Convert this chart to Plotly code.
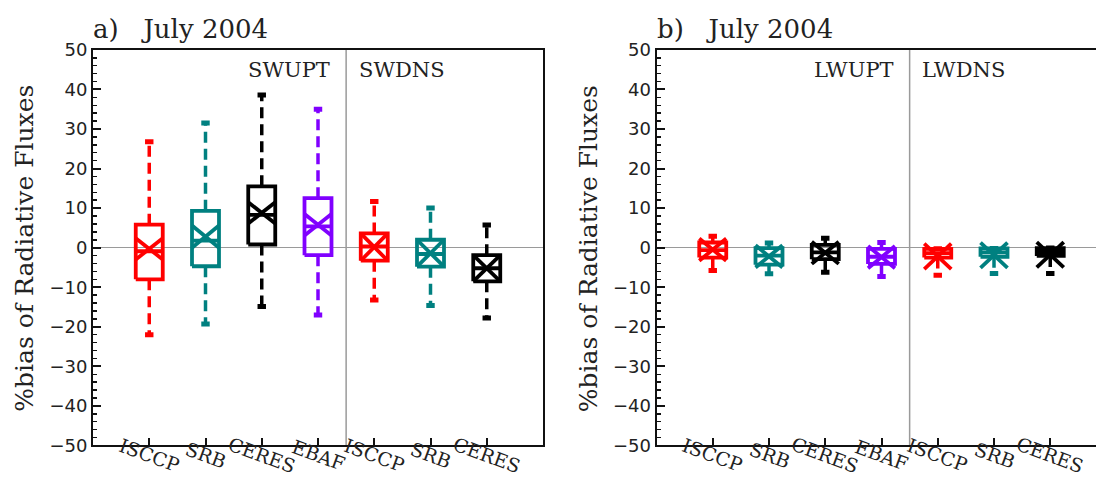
import plotly.graph_objects as go

# ---------------- data ----------------
categories = ["ISCCP", "SRB", "CERES", "EBAF", "ISCCP", "SRB", "CERES"]
colors = ["#ff0000", "#008080", "#000000", "#8000ff", "#ff0000", "#008080", "#000000"]
n_upward = 4  # first 4 boxes: TOA upward, last 3: surface downward

# panel a (shortwave)
a_groups = ["SWUPT", "SWDNS"]
a_whisker_hi = [26.8, 31.5, 38.6, 35.0, 11.7, 10.0, 5.7]
a_q3 = [5.8, 9.3, 15.5, 12.5, 3.6, 2.0, -1.9]
a_median = [-0.9, 1.8, 8.3, 5.4, 0.3, -1.6, -5.2]
a_q1 = [-8.0, -4.7, 0.8, -1.9, -3.3, -4.8, -8.5]
a_whisker_lo = [-22.0, -19.3, -14.9, -17.0, -13.2, -14.6, -17.8]
a_mean = [-0.3, 2.8, 8.8, 5.8, 0.15, -1.4, -5.2]
a_xhalf = [2.7, 2.8, 2.7, 2.7, 3.45, 3.4, 3.3]

# panel b (longwave)
b_groups = ["LWUPT", "LWDNS"]
b_whisker_hi = [2.9, 1.2, 2.4, 1.3, -0.3, -0.2, -0.1]
b_q3 = [1.3, -0.1, 0.7, -0.3, -0.3, -0.2, -0.1]
b_median = [-0.6, -2.0, -1.2, -2.3, -1.4, -1.2, -1.1]
b_q1 = [-2.5, -4.3, -2.9, -4.1, -2.5, -2.3, -2.1]
b_whisker_lo = [-5.8, -6.6, -6.2, -7.3, -7.0, -6.5, -6.5]
b_mean = [-0.5, -2.2, -1.3, -2.4, -2.2, -1.9, -1.8]
b_xhalf = [2.8, 2.8, 2.8, 2.8, 3.2, 3.2, 3.2]

title_month = "July 2004"
y_label = "%bias of Radiative Fluxes"
y_range = [-50, 50]

# ---------------- style ----------------
W, H = 1096, 478
SERIF = "DejaVu Serif"
SANS = "DejaVu Sans"
BOX_HALF = 0.24
CAP_HALF = 0.075
GRAY = "#9a9a9a"

# the captured picture maps page y to image y as: img = 10.1 + 0.957 * page
def page_y(img_y):
    return (img_y - 10.1) / 0.957


def paper_y(img_y):
    return 1 - page_y(img_y) / H


fig = go.Figure()

positions = list(range(1, len(categories) + 1))
sep = n_upward + 0.5


def add_panel(xa, ya, whi, q3, med, q1, wlo, mean, xhalf):
    for i, p in enumerate(positions):
        c = colors[i]
        # dashed whiskers
        fig.add_trace(go.Scatter(
            x=[p, p, None, p, p], y=[q3[i], whi[i], None, q1[i], wlo[i]],
            mode="lines", line=dict(color=c, width=3.5, dash="11px,6px"),
            xaxis=xa, yaxis=ya, showlegend=False, hoverinfo="skip"))
        # caps
        fig.add_trace(go.Scatter(
            x=[p - CAP_HALF, p + CAP_HALF, None, p - CAP_HALF, p + CAP_HALF],
            y=[whi[i], whi[i], None, wlo[i], wlo[i]],
            mode="lines", line=dict(color=c, width=5),
            xaxis=xa, yaxis=ya, showlegend=False, hoverinfo="skip"))
        # box, median, X (mean +/- half)
        l, r = p - BOX_HALF, p + BOX_HALF
        fig.add_trace(go.Scatter(
            x=[l, r, r, l, l, None, l, r, None,
               l, r, None, l, r],
            y=[q1[i], q1[i], q3[i], q3[i], q1[i], None, med[i], med[i], None,
               mean[i] + xhalf[i], mean[i] - xhalf[i], None,
               mean[i] - xhalf[i], mean[i] + xhalf[i]],
            mode="lines", line=dict(color=c, width=3.8),
            xaxis=xa, yaxis=ya, showlegend=False, hoverinfo="skip"))


add_panel("x", "y", a_whisker_hi, a_q3, a_median, a_q1, a_whisker_lo, a_mean, a_xhalf)
add_panel("x2", "y2", b_whisker_hi, b_q3, b_median, b_q1, b_whisker_lo, b_mean, b_xhalf)

# geometry of plot areas (image pixels)
ax_a = (93, 543)
ax_b = (656.5, 1096)
top_px, bot_px = 49, 445
ydom = [paper_y(bot_px), paper_y(top_px)]
unit_px = (ax_a[1] - ax_a[0]) / (len(categories) + 1)
xmax_b = (ax_b[1] - ax_b[0]) / unit_px

common_x = dict(showgrid=False, zeroline=False, showline=True, linewidth=2,
                linecolor="#111", mirror=True, ticks="inside", ticklen=7,
                tickwidth=2, tickcolor="#111", tickvals=positions,
                showticklabels=False, fixedrange=True)
common_y = dict(range=y_range, dtick=10, showgrid=False, zeroline=True,
                zerolinecolor=GRAY, zerolinewidth=1.5, showline=True,
                linewidth=2, linecolor="#111", ticks="inside", ticklen=8,
                tickwidth=2, tickcolor="#111",
                tickfont=dict(family=SANS, size=18, color="#222"),
                minor=dict(dtick=2, ticks="inside", ticklen=4, tickwidth=1.5,
                           tickcolor="#111"),
                fixedrange=True)

fig.update_layout(
    width=W, height=H, margin=dict(l=0, r=0, t=0, b=0),
    paper_bgcolor="white", plot_bgcolor="white",
    xaxis=dict(domain=[ax_a[0] / W, ax_a[1] / W], range=[0, len(categories) + 1], **common_x),
    yaxis=dict(domain=ydom, anchor="x", mirror=True, **common_y),
    xaxis2=dict(domain=[ax_b[0] / W, ax_b[1] / W], range=[0, xmax_b], anchor="y2", **common_x),
    yaxis2=dict(domain=ydom, anchor="x2", mirror=False, **common_y),
)

shapes = []
annotations = []
for xr, yr, groups, letter, x0px in [("x", "y", a_groups, "a)", ax_a[0]),
                                       ("x2", "y2", b_groups, "b)", ax_b[0])]:
    shapes.append(dict(type="line", xref=xr, yref=yr, x0=sep, x1=sep,
                       y0=y_range[0], y1=y_range[1],
                       line=dict(color=GRAY, width=1.5), layer="below"))
    annotations.append(dict(xref=xr, yref=yr, x=sep - 0.25, y=44.8, text=groups[0],
                            showarrow=False, xanchor="right", yanchor="middle",
                            font=dict(family=SERIF, size=21, color="#222")))
    annotations.append(dict(xref=xr, yref=yr, x=sep + 0.19, y=44.8, text=groups[1],
                            showarrow=False, xanchor="left", yanchor="middle",
                            font=dict(family=SERIF, size=21, color="#222")))
    annotations.append(dict(xref="paper", yref="paper", x=(x0px - 2) / W, y=paper_y(28),
                            text=letter + "   " + title_month, showarrow=False,
                            xanchor="left", yanchor="middle",
                            font=dict(family=SERIF, size=26, color="#222")))
    annotations.append(dict(xref="paper", yref="paper", x=(x0px - 68) / W,
                            y=paper_y(248), text=y_label, textangle=-90,
                            showarrow=False, xanchor="center", yanchor="middle",
                            font=dict(family=SERIF, size=25, color="#222")))
    for p, cat in zip(positions, categories):
        annotations.append(dict(xref=xr, yref="paper", x=p, y=paper_y(455),
                                text=cat, textangle=20, showarrow=False,
                                xanchor="center", yanchor="middle",
                                font=dict(family=SERIF, size=19, color="#222")))

fig.update_layout(shapes=shapes, annotations=annotations)

fig.write_html(
    "out.html",
    config={"displayModeBar": False, "staticPlot": True},
    post_script=(
        "var gd=document.getElementById('{plot_id}');"
        "gd.style.position='fixed';gd.style.top='0px';gd.style.left='0px';"
        "document.body.style.margin='0';document.body.style.padding='0';"
        "document.documentElement.style.overflow='hidden';"
        "document.body.style.overflow='hidden';"
    ),
)
